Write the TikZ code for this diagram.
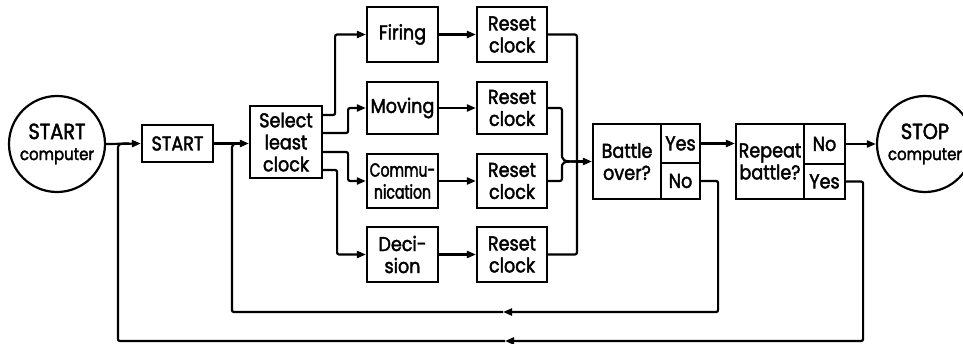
\documentclass[tikz,border=0pt]{standalone}
\usepackage{fontspec}
\setmainfont{Poppins}[FakeStretch=0.88,FakeBold=2]
\usetikzlibrary{arrows.meta,calc}
\begin{document}
\begin{tikzpicture}[x=1pt,y=-1pt,line width=2.2pt,
  box/.style={draw,rectangle,inner sep=0pt,align=center,
    font=\fontsize{20}{22}\selectfont},
  circ/.style={draw,circle,inner sep=0pt,minimum size=96pt,align=center,
    font=\fontsize{17}{21}\selectfont},
  arr/.style={-{Triangle[length=9pt,width=7pt]}},
  conn/.style={rounded corners=2pt}]
\useasboundingbox (0,0) rectangle (963,343);
\clip (0,0) rectangle (963,343);
% terminals
\node[circ] (sc) at (57,144) {{\fontsize{22}{24}\selectfont START}\\computer};
\node[circ] (sp) at (925,144) {{\fontsize{22}{24}\selectfont STOP}\\computer};
% main boxes
\node[box,minimum width=71pt,minimum height=37pt] (st) at (177.5,143.5) {START};
\node[box,minimum width=72pt,minimum height=72pt] (sel) at (286,142) {Select\\least\\clock};
\node[box,minimum width=71pt,minimum height=55pt] (fir) at (402.5,34.5) {Firing};
\node[box,minimum width=71pt,minimum height=52pt] (mov) at (402.5,108) {Moving};
\node[box,minimum width=71pt,minimum height=54pt,font=\fontsize{19}{22}\selectfont\addfontfeature{FakeStretch=0.74}] (com) at (402.5,181) {Commu-\\nication};
\node[box,minimum width=71pt,minimum height=55pt] (dec) at (402.5,254.5) {Deci-\\sion};
\node[box,minimum width=70pt,minimum height=55pt] (r1) at (512,34.5) {Reset\\clock};
\node[box,minimum width=70pt,minimum height=52pt] (r2) at (512,108) {Reset\\clock};
\node[box,minimum width=70pt,minimum height=54pt] (r3) at (512,181) {Reset\\clock};
\node[box,minimum width=70pt,minimum height=55pt] (r4) at (512,254.5) {Reset\\clock};
% decision boxes
\node[box,minimum width=68pt,minimum height=75pt] (bat) at (627,161.5) {Battle\\over?};
\node[box,minimum width=39pt,minimum height=39pt] (byes) at (680.5,143.5) {Yes};
\node[box,minimum width=39pt,minimum height=36pt] (bno) at (680.5,181) {No};
\node[box,minimum width=68pt,minimum height=75pt] (rep) at (770,161.5) {Repeat\\battle?};
\node[box,minimum width=41pt,minimum height=40pt] (rno) at (824.5,144) {No};
\node[box,minimum width=41pt,minimum height=35pt] (ryes) at (824.5,181.5) {Yes};
% helper coordinates
\coordinate (sin) at (st.east -| sel.west);
\coordinate (m) at ($(bat.west)+(-15,0)$);
\coordinate (a1) at (503,312);
\coordinate (a2) at (505,341);
% connectors
\draw[arr] (sc.east) -- (st.west);
\draw[arr] (st.east) -- (sin);
\draw[arr,conn] ($(sel.east)+(0,-27)$) -- ++(12,0) |- (fir.west);
\draw[arr,conn] ($(sel.east)+(0,-9)$) -- ++(25,0) |- (mov.west);
\draw[arr,conn] ($(sel.east)+(0,10)$) -- ++(25,0) |- (com.west);
\draw[arr,conn] ($(sel.east)+(0,28)$) -- ++(14,0) |- (dec.west);
\draw[arr] (fir.east) -- (r1.west);
\draw[arr] (mov.east) -- (r2.west);
\draw[arr] (com.east) -- (r3.west);
\draw[arr] (dec.east) -- (r4.west);
\draw[conn] (r1.east) -| (m);
\draw[conn] (r4.east) -| (m);
\draw[conn] (r2.east) -| ($(bat.west)+(-30,-12)$) .. controls ($(bat.west)+(-30,0)$) .. ($(bat.west)+(-12,0)$);
\draw[conn] (r3.east) -| ($(bat.west)+(-30,10)$) .. controls ($(bat.west)+(-30,0)$) .. ($(bat.west)+(-12,0)$);
\draw[arr] (m) -- (bat.west);
\draw[arr] (byes.east) -- (byes.east -| rep.west);
\draw[arr] (rno.east) -- (rno.east -| sp.west);
% loops
\draw[arr,conn] (bno.east) -- ++(17,0) |- (a1);
\draw[conn] (a1) -| ($(sin)+(-17,10)$) .. controls ($(sin)+(-17,0)$) .. ($(sin)+(-6,0)$);
\draw[arr,conn] (ryes.east) -- ++(17,0) |- (a2);
\draw[conn] (a2) -| ($(st.west)+(-23,10)$) .. controls ($(st.west)+(-23,0)$) .. ($(st.west)+(-12,0)$);
\end{tikzpicture}
\end{document}
